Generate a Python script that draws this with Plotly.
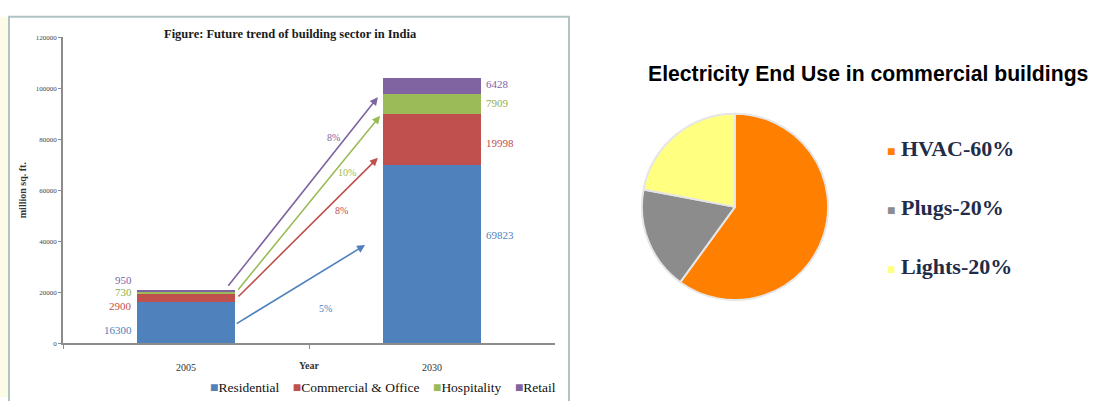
import plotly.graph_objects as go

# ---------------- data ----------------
years = ["2005", "2030"]
sectors = ["Residential", "Commercial & Office", "Hospitality", "Retail"]
residential = [16300, 69823]
commercial = [2900, 19998]
hospitality = [730, 7909]
retail = [950, 6428]
growth_rates = ["5%", "8%", "10%", "8%"]
y_ticks = [0, 20000, 40000, 60000, 80000, 100000, 120000]

pie_labels = ["HVAC-60%", "Plugs-20%", "Lights-20%"]
pie_values = [60, 18, 22]

# ---------------- styles ----------------
W, H = 1093, 401
bar_colors = ["#4F81BD", "#C0504D", "#9BBB59", "#8064A2"]
label_colors = ["#4F81BD", "#C0504D", "#8DB04A", "#7E62A8"]
pie_colors = ["#FF7F00", "#8C8C8C", "#FFFF80"]
SERIF = "Liberation Serif"

def px(x):
    return x / W

def py(y):
    return 1 - y / H

series = [residential, commercial, hospitality, retail]

fig = go.Figure()
for name, vals, col in zip(sectors, series, bar_colors):
    fig.add_trace(go.Bar(
        x=years, y=vals, name=name, marker=dict(color=col, line=dict(width=0)),
        width=0.4, xaxis="x", yaxis="y", showlegend=False,
    ))

fig.add_trace(go.Pie(
    labels=pie_labels, values=pie_values, sort=False, direction="clockwise",
    rotation=0, textinfo="none", showlegend=False,
    marker=dict(colors=pie_colors, line=dict(color="#E6E6E6", width=2)),
    domain=dict(x=[px(640), px(830)], y=[py(302), py(112)]),
))

annotations = []

# data labels (from cumulative sums); nudges in px, series order bottom -> top
half_bar = 0.2
label_yshift = {0: [-8, -8, 1, 11], 1: [19, -3, 1, 2]}
for ci in range(len(years)):
    base = 0
    for si, vals in enumerate(series):
        v = vals[ci]
        mid = base + v / 2
        base += v
        if ci == 0:
            xpos, anchor, xs = ci - half_bar, "right", -3
        else:
            xpos, anchor, xs = ci + half_bar, "left", 3
        annotations.append(dict(
            x=xpos, y=mid, xref="x", yref="y", text=str(v), showarrow=False,
            xanchor=anchor, yanchor="middle", xshift=xs, yshift=label_yshift[ci][si],
            font=dict(family=SERIF, size=11, color=label_colors[si]),
        ))

# growth arrows (start near 2005 segment, end near 2030 segment)
arrow_geo = [
    # (x_start, y_start, x_end, y_end, label_x, label_y)
    (0.20, 7300, 0.728, 38460, 0.569, 13460),
    (0.207, 17700, 0.78, 72700, 0.634, 51900),
    (0.207, 20380, 0.789, 89200, 0.654, 66900),
    (0.167, 21900, 0.78, 96500, 0.598, 80770),
]
for (x0, y0, x1, y1, lx, ly), col, rate in zip(arrow_geo, bar_colors, growth_rates):
    annotations.append(dict(
        x=x1, y=y1, ax=x0, ay=y0, xref="x", yref="y", axref="x", ayref="y",
        text="", showarrow=True, arrowhead=2, arrowsize=1, arrowwidth=1.6,
        arrowcolor=col, standoff=0, startstandoff=0,
    ))
    annotations.append(dict(
        x=lx, y=ly, xref="x", yref="y", text=rate, showarrow=False,
        xanchor="center", yanchor="middle",
        font=dict(family=SERIF, size=10, color=col),
    ))

def note(x, y, text, font, xanchor="center", **kw):
    return dict(x=px(x), y=py(y), xref="paper", yref="paper", text=text,
                showarrow=False, xanchor=xanchor, yanchor="middle", font=font, **kw)

# titles / axis titles
annotations += [
    note(290, 31, "<b>Figure: Future trend of building sector in India</b>",
         dict(family=SERIF, size=12.5, color="#1A1A1A")),
    note(22, 190, "<b>million sq. ft.</b>", dict(family=SERIF, size=10, color="#333"),
         textangle=-90),
    note(309, 369, "<b>Year</b>", dict(family=SERIF, size=10, color="#333")),
    note(868, 71, "<b>Electricity End Use in commercial buildings</b>",
         dict(family="Liberation Sans", size=21.2, color="#000")),
]

# bar legend (built from the series names / colours)
sq = "<span style='color:{c};font-size:14px'>■</span>"
leg_text = "&nbsp;&nbsp;&nbsp;&nbsp;".join(sq.format(c=c) + n for n, c in zip(sectors, bar_colors))
annotations.append(note(383, 391, leg_text, dict(family=SERIF, size=13.5, color="#111")))

# pie legend
leg_y = [147, 208, 268]
for lab, col, yy in zip(pie_labels, pie_colors, leg_y):
    annotations.append(note(
        885, yy, f"<span style='color:{col};font-size:14px'>■</span> <b>{lab}</b>",
        dict(family=SERIF, size=22, color="#1F2D4A"), xanchor="left"))

shapes = [
    dict(type="rect", xref="paper", yref="paper", x0=0, x1=px(8), y0=0, y1=py(13),
         fillcolor="#FBFBE8", line=dict(width=0), layer="below"),
    dict(type="rect", xref="paper", yref="paper", x0=px(9), x1=px(569), y0=-0.05, y1=py(13),
         line=dict(color="#AFC3C3", width=2), fillcolor="rgba(0,0,0,0)", layer="below"),
]

fig.update_layout(
    width=W, height=H, margin=dict(l=0, r=0, t=0, b=0),
    paper_bgcolor="white", plot_bgcolor="white",
    barmode="stack", bargap=0.6, showlegend=False,
    xaxis=dict(domain=[px(63), px(555)], type="category", range=[-0.5, 1.5],
               showline=True, linecolor="#8C8C8C", linewidth=1.5,
               ticks="outside", tickson="boundaries", ticklen=4, tickcolor="#8C8C8C",
               ticklabelstandoff=14, showgrid=False, zeroline=False,
               tickfont=dict(family=SERIF, size=10, color="#333")),
    yaxis=dict(domain=[py(346), py(34)], range=[0, 120000], tickvals=y_ticks,
               tickformat="d", showline=True, linecolor="#8C8C8C", linewidth=1.5,
               ticks="outside", ticklen=3, tickcolor="#8C8C8C", showgrid=False,
               zeroline=False, tickfont=dict(family=SERIF, size=7, color="#444")),
    annotations=annotations, shapes=shapes,
)

fig.write_html("out.html")
